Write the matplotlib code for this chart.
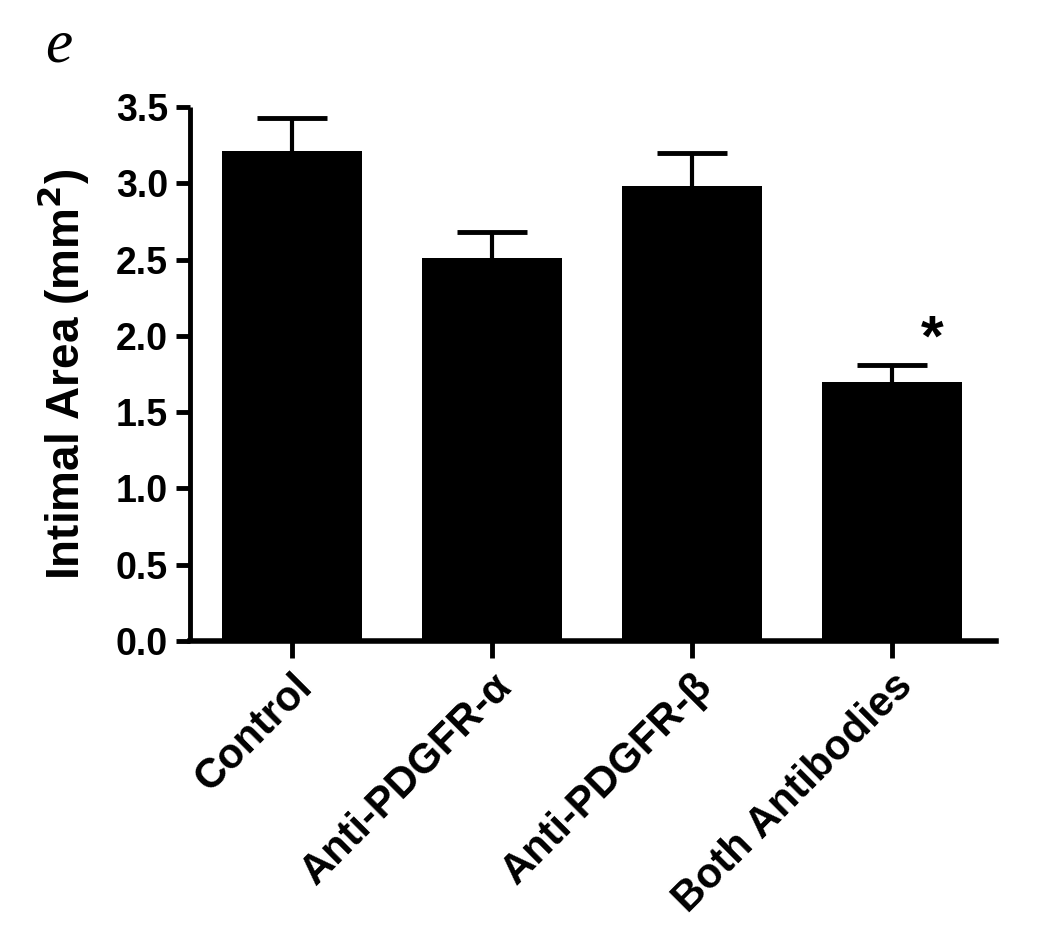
import numpy as np
import matplotlib
matplotlib.use('Agg')
import matplotlib.pyplot as plt
import matplotlib.transforms as mtransforms

# bar chart of intimal area per treatment group (mean + upper SEM)
groups = ['Control', 'Anti-PDGFR-α', 'Anti-PDGFR-β', 'Both Antibodies']
means = [3.21, 2.51, 2.98, 1.70]
sem = [0.22, 0.17, 0.22, 0.11]
yticks = [0.0, 0.5, 1.0, 1.5, 2.0, 2.5, 3.0, 3.5]

plt.rcParams['font.family'] = ['Liberation Sans', 'DejaVu Sans']

fig = plt.figure(figsize=(10.5, 9.43), dpi=100)
ax = fig.add_axes([0.181, 0.3202, 0.7676, 0.5663])

x = np.arange(len(groups))
means = np.array(means)
sem = np.array(sem)
ax.bar(x, means, width=0.7, color='black', zorder=2)
# upper error bars only: stem + cap
ax.vlines(x, means, means + sem, color='black', linewidth=3, zorder=1)
ax.hlines(means + sem, x - 0.175, x + 0.175, color='black', linewidth=3.5, zorder=1)

# significance marker over the last group
ax.text(3.2, 1.97, '*', fontsize=42, fontweight='bold', ha='center', va='center')

ax.set_xlim(-0.51, 3.52)
ax.set_ylim(0, 3.5)
ax.set_yticks(yticks)
ax.set_yticklabels([f'{v:.1f}' for v in yticks], fontsize=27, fontweight='bold')
ax.set_xticks(x)
ax.set_xticklabels(groups, rotation=45, ha='right', va='top', rotation_mode='anchor',
                   fontsize=30, fontweight='bold')
for lbl in ax.get_xticklabels():
    lbl.set_transform(lbl.get_transform() + mtransforms.ScaledTranslation(0.15, -0.22, fig.dpi_scale_trans))

ax.spines['top'].set_visible(False)
ax.spines['right'].set_visible(False)
ax.spines['left'].set_linewidth(3.5)
ax.spines['bottom'].set_linewidth(4)
ax.spines['left'].set_capstyle('butt')
ax.tick_params(axis='y', length=10, width=3.5, pad=6)
ax.tick_params(axis='x', length=12, width=3.5, pad=6)

ax.set_ylabel('Intimal Area (mm$\\mathbf{^2}$)', fontsize=33, fontweight='bold', labelpad=18)

fig.text(0.043, 0.935, 'e', fontsize=44, style='italic', family='Liberation Serif')

fig.savefig('out.png', dpi=100, facecolor='white')
